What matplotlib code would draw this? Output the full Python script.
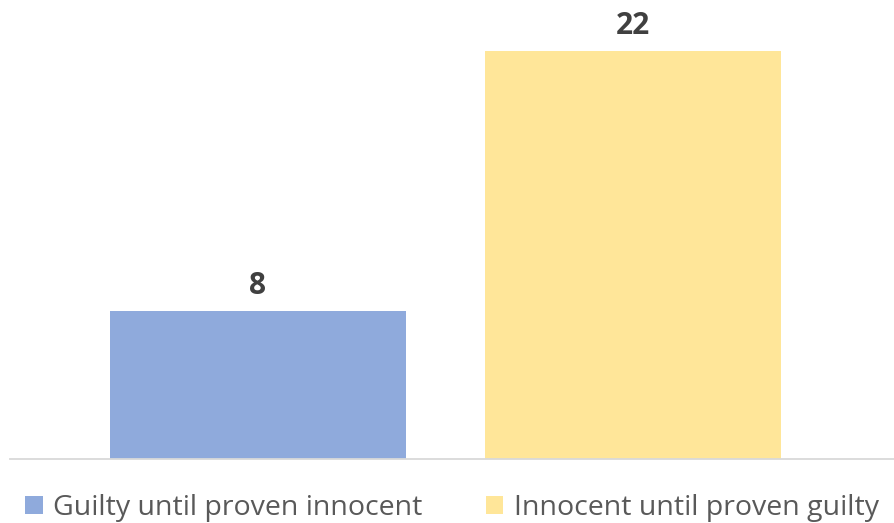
import matplotlib
matplotlib.use("Agg")
import matplotlib.pyplot as plt
from matplotlib.patches import Patch

categories = ["Guilty until proven innocent", "Innocent until proven guilty"]
values = [8, 22]
colors = ["#8FAADC", "#FFE699"]
text_color = "#404040"

plt.rcParams['font.family'] = ['Open Sans', 'DejaVu Sans']

fig = plt.figure(figsize=(8.95, 5.23), dpi=100)
W, H = 895, 523
ax = fig.add_axes([10 / W, 1 - 459 / H, 885 / W, (459 - 14) / H])
x = list(range(len(categories)))
bars = ax.bar(x, values, width=0.788, color=colors, zorder=2)
ax.set_xlim(-0.66, 1.697)
ax.set_ylim(0, 24)
for s in ["top", "right", "left"]:
    ax.spines[s].set_visible(False)
ax.spines["bottom"].set_color("#D9D9D9")
ax.spines["bottom"].set_linewidth(1.3)
ax.set_xticks([])
ax.set_yticks([])
for xi, v in zip(x, values):
    ax.annotate(str(v), (xi, v), xytext=(0, 7), textcoords="offset points",
                ha="center", va="bottom", fontsize=21.5, fontweight="bold", color=text_color)

handles = [Patch(facecolor=c, edgecolor="none") for c in colors]
leg = fig.legend(handles, categories, loc="center", bbox_to_anchor=(452 / W, 1 - 508 / H),
                 ncol=2, frameon=False, fontsize=20.5, handlelength=0.62, handleheight=0.62,
                 handletextpad=0.38, columnspacing=2.2, borderpad=0)
for t in leg.get_texts():
    t.set_color("#595959")
fig.savefig("out.png", dpi=100)
